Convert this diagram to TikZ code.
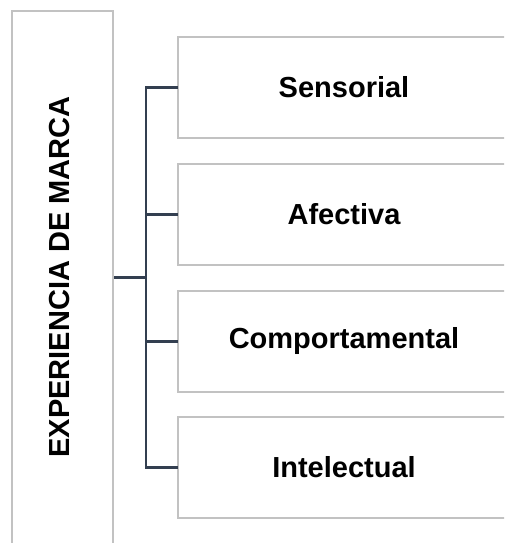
\documentclass[tikz,border=0pt]{standalone}
\usepackage{fontspec}
\setmainfont{Liberation Sans}
\begin{document}
\begin{tikzpicture}[x=1pt,y=1pt,
  edge/.style={draw=black!24, line width=2pt},
  frame/.style={edge, fill=white, inner sep=0pt},
  item/.style={inner sep=0pt, minimum width=332pt, minimum height=101pt,
    font=\bfseries\fontsize{29}{34}\selectfont},
  title/.style={font=\bfseries\fontsize{29}{34}\selectfont, inner sep=0pt},
  conn/.style={draw={rgb,255:red,51;green,63;blue,80}, line width=2.2pt}]
  \useasboundingbox (0,0) rectangle (504,543);
  \clip (0,0) rectangle (504,543);

  % left column (runs off the bottom of the page)
  \node[frame, minimum width=101pt, minimum height=536pt] (exp) at (62.5,264) {};
  \node[title, rotate=90] (exptext) at (60,266) {EXPERIENCIA DE MARCA};

  % dimensions, open on the right where they run off the page
  \node[item] (s1) at (344,455.5) {Sensorial};
  \node[item] (s2) at (344,328.5) {Afectiva};
  \node[item] (s3) at (344,201.5) {Comportamental};
  \node[item] (s4) at (344,75.5) {Intelectual};
  \foreach \n in {s1,s2,s3,s4}
    \draw[edge] ([xshift=20pt]\n.north east) -- (\n.north west)
      -- (\n.south west) -- ([xshift=20pt]\n.south east);

  % bracket connectors
  \draw[conn] ([yshift=1.5pt]exp.east) -- ++(32,0) coordinate (j);
  \draw[conn] (s1.west) -| (j) |- (s4.west);
  \draw[conn] (s2.west) -- (s2.west -| j);
  \draw[conn] (s3.west) -- (s3.west -| j);
\end{tikzpicture}
\end{document}
